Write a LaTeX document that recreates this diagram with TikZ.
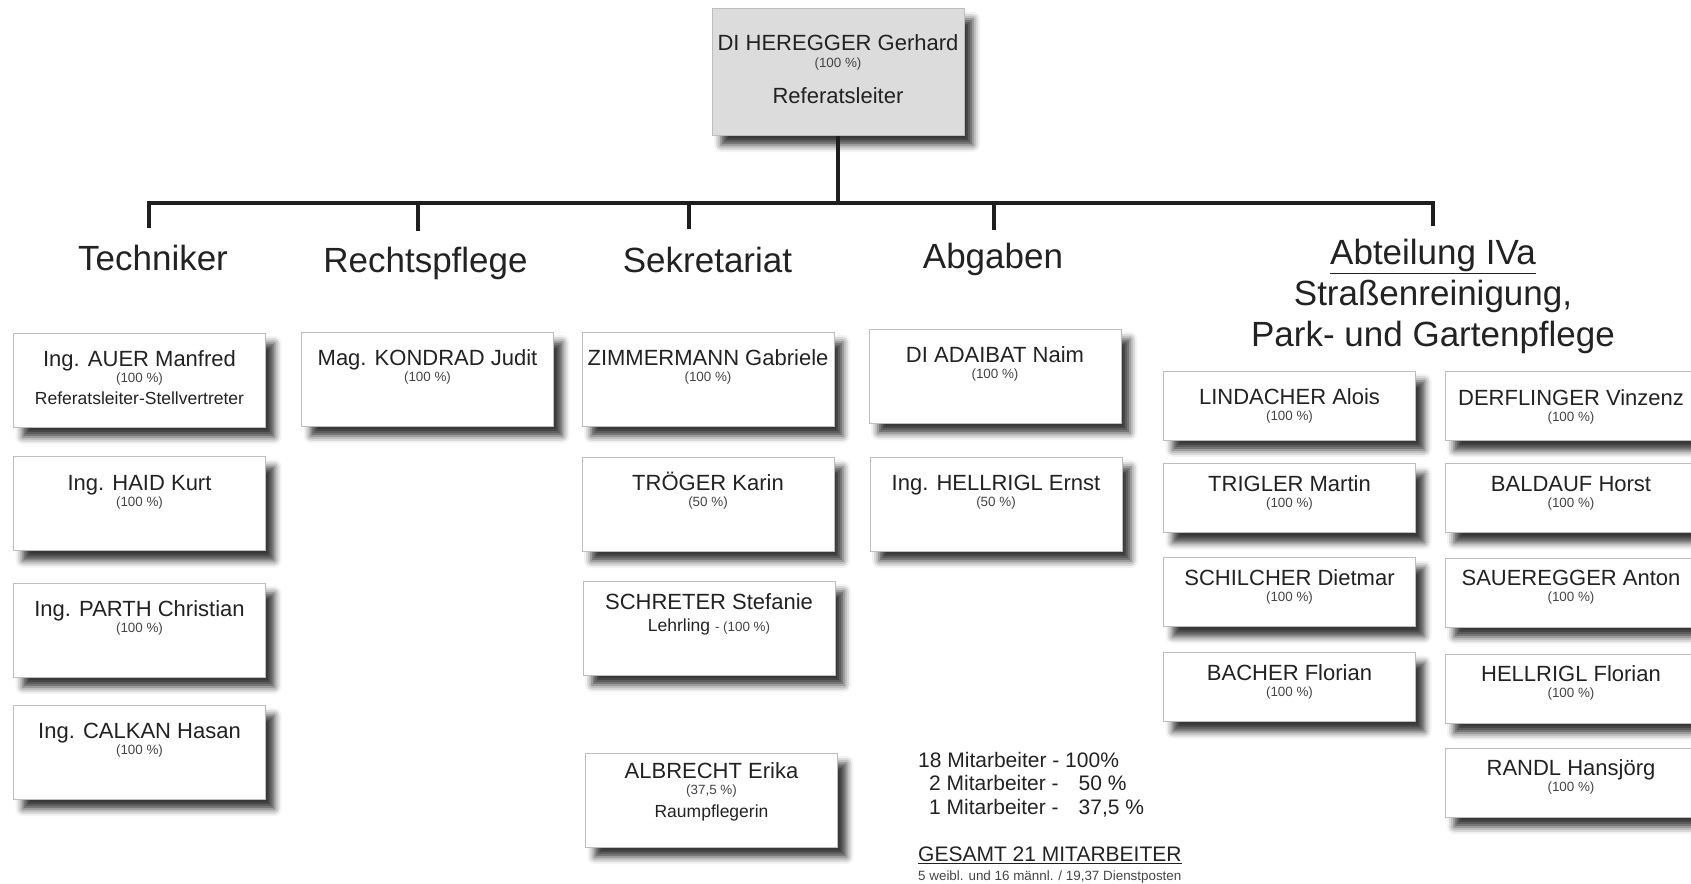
\documentclass[tikz,border=0pt]{standalone}
\usepackage{fontspec}
\setmainfont{Liberation Sans}
\usetikzlibrary{positioning,shadows.blur}
\definecolor{ink}{HTML}{222222}
\definecolor{soft}{HTML}{444444}
\definecolor{frame}{HTML}{BDBDBD}
\definecolor{bossgray}{HTML}{DCDCDC}
\definecolor{barline}{HTML}{1E1E1E}
\tikzset{
	person/.style={rectangle, draw=frame, line width=1pt, fill=white, minimum width=252pt, minimum height=94pt, inner sep=0pt,
		blur shadow={shadow xshift=9pt, shadow yshift=-10pt, shadow blur radius=7pt, shadow opacity=78}},
	small/.style={person, minimum height=69pt},
	boss/.style={person, fill=bossgray, minimum height=126pt},
	nm/.style={font=\fontsize{22}{26}\selectfont, text=ink, anchor=base, inner sep=0pt},
	pct/.style={font=\fontsize{13.4}{16}\selectfont, text=soft, anchor=base, inner sep=0pt},
	rl/.style={font=\fontsize{17.5}{21}\selectfont, text=ink, anchor=base, inner sep=0pt},
	hd/.style={font=\fontsize{35}{41}\selectfont, text=ink, anchor=base, inner sep=0pt},
	stat/.style={font=\fontsize{21}{25}\selectfont, text=ink, anchor=base west, inner sep=0pt},
	bar/.style={line width=4.5pt, barline, line join=miter}
}
\begin{document}
\begin{tikzpicture}[x=1pt, y=-1pt]
	\useasboundingbox (0,0) rectangle (1691,883);

	% head of the department
	\node[boss] (boss) at (838,72) {};
	\node[nm] at ([yshift=-42pt]boss.north) {DI HEREGGER Gerhard};
	\node[pct] at ([yshift=-59pt]boss.north) {(100 \%)};
	\node[nm] at ([yshift=-95pt]boss.north) {Referatsleiter};

	% tree lines
	\coordinate (barL) at (149,203);
	\coordinate (barR) at (1433,203);
	\coordinate (dTech) at (149,228);
	\coordinate (dRecht) at (418,231);
	\coordinate (dSek) at (689,229);
	\coordinate (dAbg) at (994,230);
	\coordinate (dAbt) at (1433,226);
	\draw[bar] (dTech) -- (barL) -- (barR) -- (dAbt);
	\draw[bar] (boss.south) -- (boss.south |- barL);
	\draw[bar] (dRecht) -- (dRecht |- barL);
	\draw[bar] (dSek) -- (dSek |- barL);
	\draw[bar] (dAbg) -- (dAbg |- barL);

	% groups
	\node[hd] (tech) at (153,270) {Techniker};
	\node[hd] (recht) at (425.5,272) {Rechtspflege};
	\node[hd] (sek) at (707.5,272) {Sekretariat};
	\node[hd] (abg) at (993,268.5) {Abgaben};
	\node[hd, anchor=north, align=center] (abt) at (1433,239) {\underline{Abteilung IVa}\\Straßenreinigung,\\Park- und Gartenpflege};

	% Techniker
	\node[person] (auer) at (139.5,380) {};
	\node[nm] at ([yshift=-34pt]auer.north) {Ing. AUER Manfred};
	\node[pct] at ([yshift=-50pt]auer.north) {(100 \%)};
	\node[rl] at ([yshift=-72pt]auer.north) {Referatsleiter-Stellvertreter};
	\node[person] (haid) at (139.5,503.5) {};
	\node[nm] at ([yshift=-34pt]haid.north) {Ing. HAID Kurt};
	\node[pct] at ([yshift=-50pt]haid.north) {(100 \%)};
	\node[person] (parth) at (139.5,630) {};
	\node[nm] at ([yshift=-34pt]parth.north) {Ing. PARTH Christian};
	\node[pct] at ([yshift=-50pt]parth.north) {(100 \%)};
	\node[person] (calkan) at (139.5,752) {};
	\node[nm] at ([yshift=-34pt]calkan.north) {Ing. CALKAN Hasan};
	\node[pct] at ([yshift=-50pt]calkan.north) {(100 \%)};

	% Rechtspflege
	\node[person] (kondrad) at (427.5,379) {};
	\node[nm] at ([yshift=-34pt]kondrad.north) {Mag. KONDRAD Judit};
	\node[pct] at ([yshift=-50pt]kondrad.north) {(100 \%)};

	% Sekretariat
	\node[person] (zimmer) at (708,379) {};
	\node[nm] at ([yshift=-34pt]zimmer.north) {ZIMMERMANN Gabriele};
	\node[pct] at ([yshift=-50pt]zimmer.north) {(100 \%)};
	\node[person] (troeger) at (708,504) {};
	\node[nm] at ([yshift=-34pt]troeger.north) {TRÖGER Karin};
	\node[pct] at ([yshift=-50pt]troeger.north) {(50 \%)};
	\node[person] (schreter) at (709,628) {};
	\node[nm] at ([yshift=-29pt]schreter.north) {SCHRETER Stefanie};
	\node[rl] at ([yshift=-51pt]schreter.north) {Lehrling {\fontsize{13.4}{16}\selectfont\color{soft} - (100 \%)}};
	\node[person] (albrecht) at (711.5,800) {};
	\node[nm] at ([yshift=-26pt]albrecht.north) {ALBRECHT Erika};
	\node[pct] at ([yshift=-42pt]albrecht.north) {(37,5 \%)};
	\node[rl] at ([yshift=-65pt]albrecht.north) {Raumpflegerin};

	% Abgaben
	\node[person] (adaibat) at (995,376) {};
	\node[nm] at ([yshift=-34pt]adaibat.north) {DI ADAIBAT Naim};
	\node[pct] at ([yshift=-50pt]adaibat.north) {(100 \%)};
	\node[person] (hellriglE) at (996,504) {};
	\node[nm] at ([yshift=-34pt]hellriglE.north) {Ing. HELLRIGL Ernst};
	\node[pct] at ([yshift=-50pt]hellriglE.north) {(50 \%)};

	% Abteilung IVa, left column
	\node[small] (lindacher) at (1289.5,405.5) {};
	\node[nm] at ([yshift=-34pt]lindacher.north) {LINDACHER Alois};
	\node[pct] at ([yshift=-50pt]lindacher.north) {(100 \%)};
	\node[small] (trigler) at (1289.5,498) {};
	\node[nm] at ([yshift=-28pt]trigler.north) {TRIGLER Martin};
	\node[pct] at ([yshift=-44pt]trigler.north) {(100 \%)};
	\node[small] (schilcher) at (1289.5,592) {};
	\node[nm] at ([yshift=-28pt]schilcher.north) {SCHILCHER Dietmar};
	\node[pct] at ([yshift=-44pt]schilcher.north) {(100 \%)};
	\node[small] (bacher) at (1289.5,687) {};
	\node[nm] at ([yshift=-28pt]bacher.north) {BACHER Florian};
	\node[pct] at ([yshift=-44pt]bacher.north) {(100 \%)};

	% Abteilung IVa, right column
	\node[small] (derflinger) at (1571,406) {};
	\node[nm] at ([yshift=-34pt]derflinger.north) {DERFLINGER Vinzenz};
	\node[pct] at ([yshift=-50pt]derflinger.north) {(100 \%)};
	\node[small] (baldauf) at (1571,498) {};
	\node[nm] at ([yshift=-28pt]baldauf.north) {BALDAUF Horst};
	\node[pct] at ([yshift=-44pt]baldauf.north) {(100 \%)};
	\node[small] (sauer) at (1571,592.5) {};
	\node[nm] at ([yshift=-28pt]sauer.north) {SAUEREGGER Anton};
	\node[pct] at ([yshift=-44pt]sauer.north) {(100 \%)};
	\node[small] (hellriglF) at (1571,688.5) {};
	\node[nm] at ([yshift=-28pt]hellriglF.north) {HELLRIGL Florian};
	\node[pct] at ([yshift=-44pt]hellriglF.north) {(100 \%)};
	\node[small] (randl) at (1571,782.5) {};
	\node[nm] at ([yshift=-28pt]randl.north) {RANDL Hansjörg};
	\node[pct] at ([yshift=-44pt]randl.north) {(100 \%)};

	% staff summary
	\node[stat] (s1) at (918,767) {18 Mitarbeiter - 100\%};
	\node[stat] (s2) at (929,790) {2 Mitarbeiter -\hspace{20pt}50 \%};
	\node[stat] (s3) at (929,814.5) {1 Mitarbeiter -\hspace{20pt}37,5 \%};
	\node[stat] (total) at (918,861.5) {\underline{GESAMT 21 MITARBEITER}};
	\node[pct, anchor=base west] (staff) at (918,880) {5 weibl. und 16 männl. / 19,37 Dienstposten};
\end{tikzpicture}
\end{document}
